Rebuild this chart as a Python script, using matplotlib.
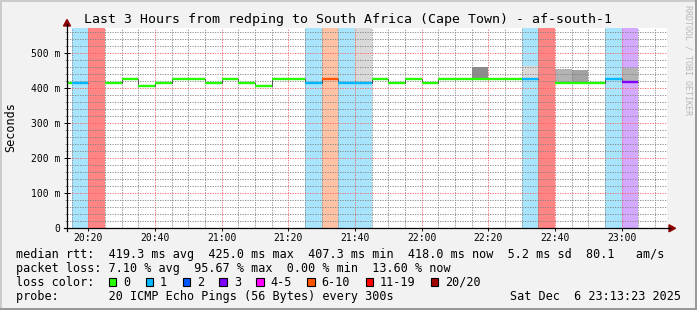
import numpy as np
import matplotlib.pyplot as plt
from matplotlib.patches import Rectangle, Polygon
from matplotlib.lines import Line2D
from matplotlib.ticker import MultipleLocator, FuncFormatter

# ---- data (5 minute bins) ----
bin_time = ["20:10", "20:15", "20:20", "20:25", "20:30", "20:35", "20:40", "20:45",
            "20:50", "20:55", "21:00", "21:05", "21:10", "21:15", "21:20", "21:25",
            "21:30", "21:35", "21:40", "21:45", "21:50", "21:55", "22:00", "22:05",
            "22:10", "22:15", "22:20", "22:25", "22:30", "22:35", "22:40", "22:45",
            "22:50", "22:55", "23:00", "23:05", "23:10"]
nan = np.nan
median_ms = [416, 416, nan, 416, 425, 407, 416, 425,
             425, 416, 425, 416, 407, 425, 425, 416,
             425, 416, 416, 425, 416, 425, 416, 425,
             425, 425, 425, 425, 425, nan, 416, 416,
             416, 425, 418, nan, nan]
lost_pings = [0, 1, 19, 0, 0, 0, 0, 0,
              0, 0, 0, 0, 0, 0, 0, 1,
              8, 1, 1, 0, 0, 0, 0, 0,
              0, 0, 0, 0, 1, 19, 0, 0,
              0, 1, 3, nan, nan]
smoke_top_ms = [nan] * 18 + [650] + [nan] * 6 + [462] + [nan] * 2 + [464] + [nan] + [454, 451] + [nan] * 2 + [458] + [nan] * 2
smoke_grey = [nan] * 18 + [0.85] + [nan] * 6 + [0.55] + [nan] * 2 + [0.85] + [nan] + [0.70, 0.64] + [nan] * 2 + [0.70] + [nan] * 2

loss_labels = ["0", "1", "2", "3", "4-5", "6-10", "11-19", "20/20"]
loss_colors = ["#26ff00", "#00b8ff", "#0059ff", "#7e00ff", "#ff00ff", "#ff5500", "#ff0000", "#a10000"]
band_colors = ["#ffffff", "#a8e4fb", "#a6c4ff", "#d3aaff", "#ffaaff", "#ffc2a4", "#ff8585", "#d98080"]

title = "Last 3 Hours from redping to South Africa (Cape Town) - af-south-1"
stats_rtt = "median rtt:  419.3 ms avg  425.0 ms max  407.3 ms min  418.0 ms now  5.2 ms sd  80.1   am/s"
stats_loss = "packet loss: 7.10 % avg  95.67 % max  0.00 % min  13.60 % now"
probe_txt = "probe:       20 ICMP Echo Pings (56 Bytes) every 300s"
date_txt = "Sat Dec  6 23:13:23 2025"

W, H = 697, 310
MONO = "DejaVu Sans Mono"


def fx(x):
    return x / W


def fy(y):
    return 1 - y / H


def loss_cat(n):
    if n <= 3:
        return int(n)
    if n <= 5:
        return 4
    if n <= 10:
        return 5
    if n <= 19:
        return 6
    return 7


t = np.array([int(s[:2]) * 60 + int(s[3:]) for s in bin_time], dtype=float)
med = np.array(median_ms) / 1000.0

fig = plt.figure(figsize=(W / 100, H / 100), dpi=100, facecolor="#f2f2f2")
ax = fig.add_axes([fx(67), fy(228.3), 600 / W, 200.3 / H])
ax.set_facecolor("white")
ax.set_xlim(1213.6, 1393.6)
ax.set_ylim(0, 0.572)
for s in ax.spines.values():
    s.set_visible(False)

# loss bands
for i in range(len(t)):
    n = lost_pings[i]
    if np.isnan(n) or n == 0:
        continue
    ax.axvspan(t[i], t[i] + 5, color=band_colors[loss_cat(n)], lw=0, zorder=1)

# smoke
for i in range(len(t)):
    if np.isnan(smoke_top_ms[i]):
        continue
    top = smoke_top_ms[i] / 1000.0
    g = smoke_grey[i]
    ax.bar(t[i], top - med[i], bottom=med[i], width=5, align="edge",
           color=(g, g, g), lw=0, zorder=1.2)

# median line
xs = np.append(t, t[-1] + 5)
ys = np.append(med, med[-1])
ax.step(xs, ys, where="post", color="#444444", lw=0.6, zorder=2.8)
for i in range(len(t)):
    if np.isnan(med[i]):
        continue
    ax.hlines(med[i], t[i], t[i] + 5, color=loss_colors[loss_cat(lost_pings[i])],
              lw=1.7, zorder=3, capstyle="butt")

# grid and ticks
ax.xaxis.set_major_locator(MultipleLocator(20))
ax.xaxis.set_minor_locator(MultipleLocator(5))
ax.yaxis.set_major_locator(MultipleLocator(0.1))
ax.yaxis.set_minor_locator(MultipleLocator(0.02))
ax.xaxis.set_major_formatter(FuncFormatter(lambda v, p: "%02d:%02d" % (int(v) // 60, int(v) % 60)))
ax.yaxis.set_major_formatter(FuncFormatter(lambda v, p: "0" if abs(v) < 1e-9 else "%d m" % round(v * 1000)))
ax.set_axisbelow(False)
ax.grid(which="minor", color=(0.5, 0.5, 0.5, 0.22), lw=0.6, linestyle=(0, (1.5, 1.5)))
ax.grid(which="major", color=(1.0, 0.35, 0.35, 0.45), lw=0.6, linestyle=(0, (1.5, 1.5)))
ax.tick_params(axis="both", which="major", labelsize=7, colors="black", width=0.7)
ax.tick_params(axis="x", which="major", direction="out", length=2.2, pad=1.5)
ax.tick_params(axis="x", which="minor", length=0)
ax.tick_params(axis="y", which="major", direction="inout", length=4, pad=3)
ax.tick_params(axis="y", which="minor", direction="out", length=1.2, width=0.4, colors="#555555")
for lab in ax.get_xticklabels() + ax.get_yticklabels():
    lab.set_family(MONO)

# axis lines with arrows
fig.add_artist(Line2D([fx(67), fx(67)], [fy(231), fy(24)], color="black", lw=0.9))
fig.add_artist(Line2D([fx(64), fx(670)], [fy(228.3), fy(228.3)], color="black", lw=0.9))
fig.add_artist(Polygon([[fx(63.5), fy(26)], [fx(70.5), fy(26)], [fx(67), fy(19.5)]], color="#8b0000"))
fig.add_artist(Polygon([[fx(669), fy(224.8)], [fx(669), fy(231.8)], [fx(675.5), fy(228.3)]], color="#8b0000"))

# texts
fig.text(fx(348), fy(19), title, family=MONO, fontsize=9.5, ha="center", va="center")
fig.text(fx(11), fy(127), "Seconds", family=MONO, fontsize=8.5, rotation=90, ha="center", va="center")
fig.text(fx(688), fy(5), "RRDTOOL / TOBI OETIKER", family=MONO, fontsize=6, rotation=270,
         ha="center", va="top", color="#b8b8b8")

x0 = 15.5
fig.text(fx(x0), fy(254.3), stats_rtt, family=MONO, fontsize=8.5, va="center")
fig.text(fx(x0), fy(268.3), stats_loss, family=MONO, fontsize=8.5, va="center")
fig.text(fx(x0), fy(282.3), "loss color:", family=MONO, fontsize=8.5, va="center")
fig.text(fx(x0), fy(296.3), probe_txt, family=MONO, fontsize=8.5, va="center")
fig.text(fx(681), fy(296.3), date_txt, family=MONO, fontsize=8.5, va="center", ha="right")

sx = 108.7
for lab, col in zip(loss_labels, loss_colors):
    fig.add_artist(Rectangle((fx(sx), fy(285.7)), 7.5 / W, 8 / H, facecolor=col,
                             edgecolor="black", lw=0.8))
    lx = sx + 14.3
    fig.text(fx(lx), fy(282.3), lab, family=MONO, fontsize=8.5, va="center")
    sx = lx + len(lab) * 7.1 + 15.5

# 3d frame
fig.add_artist(Rectangle((0, 0), 2 / W, 1, color="#cbcbcb", lw=0))
fig.add_artist(Rectangle((0, fy(2)), 1, 2 / H, color="#cbcbcb", lw=0))
fig.add_artist(Rectangle((fx(695), 0), 2 / W, 1, color="#999999", lw=0))
fig.add_artist(Rectangle((0, 0), 1, 2 / H, color="#999999", lw=0))

fig.savefig("out.png", dpi=100, facecolor=fig.get_facecolor())
